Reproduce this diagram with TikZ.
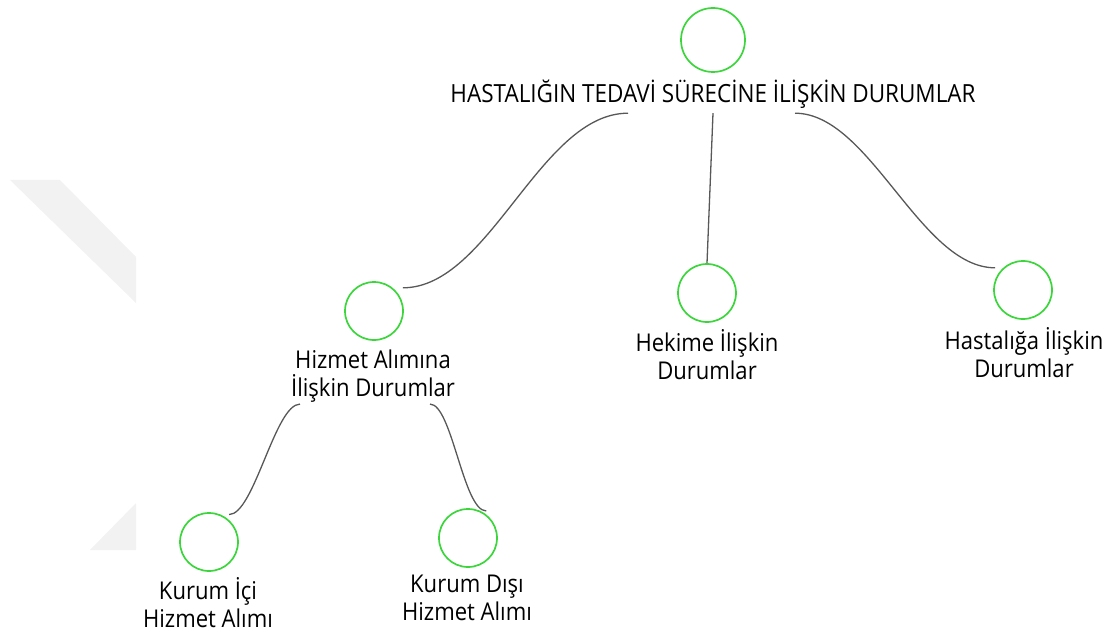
\documentclass[tikz,border=0pt]{standalone}
\usepackage{fontspec}
\setmainfont[FakeStretch=0.9]{Open Sans}
\definecolor{ringgreen}{HTML}{3CD63C}
\definecolor{linkgrey}{HTML}{585858}
\definecolor{markgrey}{HTML}{F2F2F2}

\begin{document}
\begin{tikzpicture}[x=1pt,y=-1pt,
    ring/.style={circle,draw=ringgreen,line width=1.7pt,minimum size=58pt,inner sep=0pt},
    caption/.style={align=center,inner sep=0pt,anchor=base,font=\fontsize{24.5}{28}\selectfont},
    link/.style={draw=linkgrey,line width=1.3pt}]
      \useasboundingbox (0,0) rectangle (1111,639);
      %Watermark
      \fill[markgrey] (10,180) -- (60,180) -- (136,257) -- (136,303) -- cycle;
      \fill[markgrey] (136,503) -- (136,550) -- (90,550) -- cycle;
      %Root
      \node[ring,minimum size=64pt] (root) at (713,40) {};
      \node[inner sep=0pt,anchor=base,font=\fontsize{25}{28}\selectfont] (title) at (713,103)
        {HASTALIĞIN TEDAVİ SÜRECİNE İLİŞKİN DURUMLAR};
      %Second level
      \node[ring] (hizmet) at (374,311) {};
      \node[caption] (hizmetcap) at (373,396) {Hizmet Alımına\\İlişkin Durumlar};
      \node[ring] (hekime) at (707,293) {};
      \node[caption] (hekimecap) at (707,379) {Hekime İlişkin\\Durumlar};
      \node[ring] (hastaliga) at (1023,290) {};
      \node[caption] (hastaligacap) at (1024,377) {Hastalığa İlişkin\\Durumlar};
      %Third level
      \node[ring] (ici) at (209,542) {};
      \node[caption] (icicap) at (208,627) {Kurum İçi\\Hizmet Alımı};
      \node[ring] (disi) at (468,538) {};
      \node[caption] (disicap) at (467,620) {Kurum Dışı\\Hizmet Alımı};
      %Links
      \draw[link] ([xshift=-85pt,yshift=-4pt]title.south) .. controls +(-88,0) and +(87,0) .. ([shift={(6pt,4pt)}]hizmet.40);
      \draw[link] ([yshift=-4pt]title.south) -- (hekime.north);
      \draw[link] ([xshift=82pt,yshift=-4pt]title.south) .. controls +(75,0) and +(-75,0) .. ([shift={(-5pt,3pt)}]hastaliga.140);
      \draw[link] ([xshift=-73pt,yshift=-2pt]hizmetcap.south) .. controls +(-25,0) and +(25,0) .. ([shift={(3pt,3pt)}]ici.55);
      \draw[link] ([xshift=57pt,yshift=-2pt]hizmetcap.south) .. controls +(22,0) and +(-23,0) .. ([shift={(2pt,2pt)}]disi.57);
\end{tikzpicture}
\end{document}
